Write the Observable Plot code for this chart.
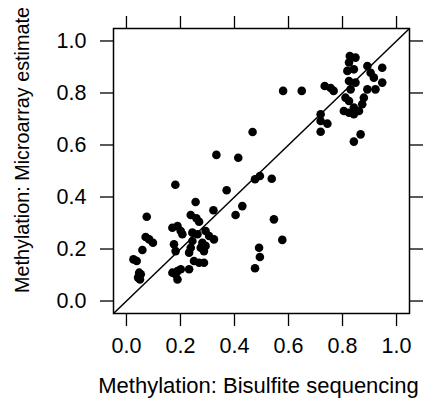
<!DOCTYPE html>
<html>
<head>
<meta charset="utf-8">
<script src="https://cdn.jsdelivr.net/npm/d3@7"></script>
<script src="https://cdn.jsdelivr.net/npm/@observablehq/plot@0.6"></script>
<style>
  html, body { margin: 0; padding: 0; background: #fff; }
  #chart svg { display: block; }
</style>
</head>
<body>
<div id="chart"></div>
<script>
// Bisulfite sequencing methylation (x) vs microarray estimate (y)
const bisulfite = [
  0.580, 0.649,
  0.734, 0.756, 0.767, 0.719,
  0.827, 0.848, 0.824, 0.818, 0.842,
  0.892, 0.947, 0.904, 0.916,
  0.947, 0.922, 0.892,
  0.848, 0.824, 0.830, 0.811, 0.824, 0.842, 0.824, 0.879, 0.873, 0.861,
  0.719, 0.744, 0.719,
  0.805, 0.842,
  0.867, 0.842,
  0.467, 0.333, 0.414, 0.476, 0.494, 0.538, 0.181, 0.371, 0.256, 0.322, 0.429, 0.075, 0.404, 0.546,
  0.577, 0.491, 0.494, 0.476,
  0.071, 0.084, 0.098, 0.059, 0.026, 0.038, 0.047, 0.053, 0.043, 0.050,
  0.238, 0.259, 0.269, 0.170, 0.189, 0.201, 0.207, 0.244, 0.263, 0.293, 0.306, 0.324,
  0.176, 0.182, 0.244, 0.238, 0.232, 0.281, 0.275, 0.287, 0.293,
  0.250, 0.269, 0.287, 0.232, 0.189, 0.182, 0.201, 0.170, 0.189
];
const microarray = [
  0.808, 0.808,
  0.827, 0.819, 0.808, 0.718,
  0.942, 0.936, 0.917, 0.885, 0.891,
  0.904, 0.897, 0.878, 0.859,
  0.840, 0.814, 0.814,
  0.840, 0.846, 0.814, 0.782, 0.769, 0.744, 0.724, 0.782, 0.757, 0.731,
  0.692, 0.682, 0.651,
  0.731, 0.718,
  0.641, 0.613,
  0.650, 0.562, 0.551, 0.468, 0.481, 0.470, 0.447, 0.426, 0.381, 0.349, 0.365, 0.324, 0.331, 0.314,
  0.235, 0.205, 0.169, 0.126,
  0.246, 0.237, 0.224, 0.196, 0.160, 0.154, 0.109, 0.103, 0.090, 0.083,
  0.331, 0.318, 0.305, 0.282, 0.288, 0.269, 0.257, 0.263, 0.257, 0.269, 0.250, 0.237,
  0.218, 0.192, 0.231, 0.205, 0.186, 0.224, 0.205, 0.192, 0.212,
  0.154, 0.147, 0.147, 0.122, 0.115, 0.103, 0.122, 0.109, 0.083
];
const tickValues = [0, 0.2, 0.4, 0.6, 0.8, 1.0];
const tickLabels = ["0.0", "0.2", "0.4", "0.6", "0.8", "1.0"];
const axisDomain = [-0.048, 1.048];
const xTitle = "Methylation: Bisulfite sequencing";
const yTitle = "Methylation: Microarray estimate";

const points = bisulfite.map((x, i) => ({x, y: microarray[i]}));
const refLine = [{x1: axisDomain[0], y1: axisDomain[0], x2: axisDomain[1], y2: axisDomain[1]}];
const fmt = d => tickLabels[tickValues.findIndex(t => Math.abs(t - d) < 1e-9)];

const chart = Plot.plot({
  width: 425,
  height: 403,
  marginLeft: 113,
  marginRight: 16,
  marginTop: 28,
  marginBottom: 90,
  style: {fontFamily: "'Liberation Sans', Arial, Helvetica, sans-serif", fontSize: "21px", color: "#000", background: "#fff"},
  x: {domain: axisDomain, ticks: tickValues},
  y: {domain: axisDomain, ticks: tickValues},
  marks: [
    Plot.axisX({anchor: "bottom", ticks: tickValues, tickSize: 13, tickPadding: 11, tickFormat: fmt, label: null, fontSize: 21.5, strokeWidth: 1.3}),
    Plot.axisX({anchor: "top", ticks: tickValues, tickSize: 13, tickFormat: () => "", label: null, strokeWidth: 1.3}),
    Plot.axisY({anchor: "left", ticks: tickValues, tickSize: 13, tickPadding: 14, tickFormat: fmt, label: null, fontSize: 21.5, strokeWidth: 1.3}),
    Plot.axisY({anchor: "right", ticks: tickValues, tickSize: 13, tickFormat: () => "", label: null, strokeWidth: 1.3}),
    Plot.link(refLine, {x1: "x1", y1: "y1", x2: "x2", y2: "y2", stroke: "#000", strokeWidth: 1.5}),
    Plot.dot(points, {x: "x", y: "y", r: 4.3, fill: "#000", stroke: "none"}),
    Plot.frame({stroke: "#000", strokeWidth: 1.5}),
    Plot.text([xTitle], {frameAnchor: "bottom", textAnchor: "middle", dy: 79, dx: -3, fontSize: 22, fill: "#000"}),
    Plot.text([yTitle], {frameAnchor: "left", textAnchor: "middle", rotate: -90, dx: -91, dy: -21, fontSize: 19.8, fill: "#000"})
  ]
});
document.getElementById("chart").appendChild(chart);
</script>
</body>
</html>
